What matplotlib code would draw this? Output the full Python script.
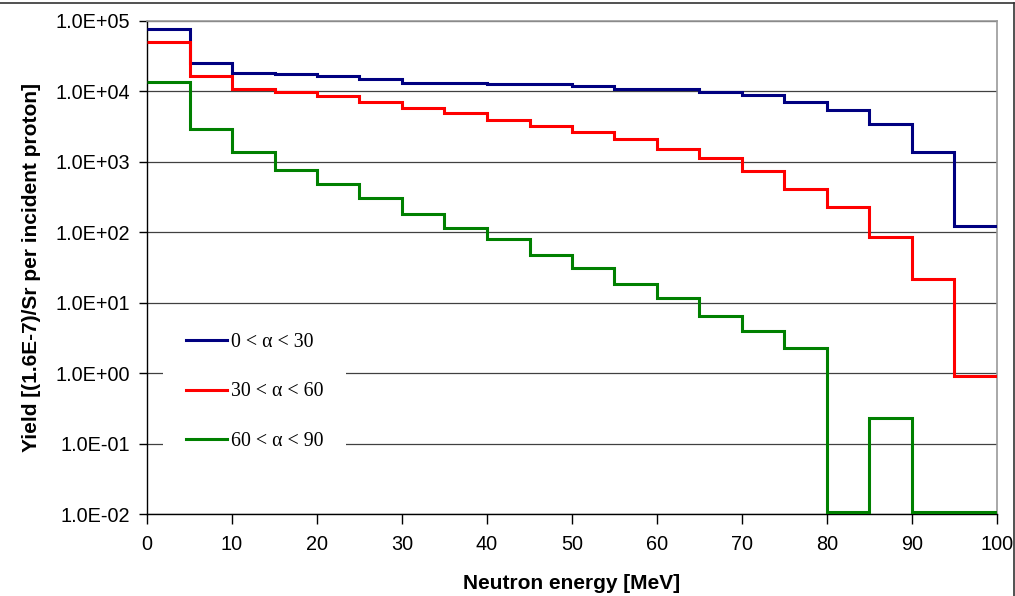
import matplotlib

matplotlib.use("Agg")
import matplotlib.pyplot as plt
from matplotlib.lines import Line2D
from matplotlib.ticker import FixedLocator, FuncFormatter, NullLocator

# bin edges in MeV (20 bins of 5 MeV)
edges = [0, 5, 10, 15, 20, 25, 30, 35, 40, 45, 50,
         55, 60, 65, 70, 75, 80, 85, 90, 95, 100]

yield_0_30 = [7.6e4, 2.56e4, 1.85e4, 1.77e4, 1.67e4, 1.49e4, 1.33e4, 1.33e4, 1.28e4, 1.28e4,
              1.21e4, 1.08e4, 1.08e4, 9.8e3, 8.9e3, 7.1e3, 5.4e3, 3.4e3, 1.4e3, 123]
yield_30_60 = [4.98e4, 1.66e4, 1.08e4, 9.8e3, 8.7e3, 7.15e3, 5.75e3, 4.99e3, 3.97e3, 3.23e3,
               2.65e3, 2.11e3, 1.54e3, 1.12e3, 741, 416, 231, 85, 22, 0.91]
yield_60_90 = [1.35e4, 2.93e3, 1.40e3, 766, 485, 304, 180, 116, 81, 47,
               31.4, 18.2, 11.6, 6.5, 3.96, 2.25, 0.0108, 0.229, 0.0108, 0.0108]

labels = ["0 < α < 30", "30 < α < 60", "60 < α < 90"]
colors = ["#000080", "#ff0000", "#008000"]

x_ticks = [0, 10, 20, 30, 40, 50, 60, 70, 80, 90, 100]
y_ticks = [1e-2, 1e-1, 1e0, 1e1, 1e2, 1e3, 1e4, 1e5]

plt.rcParams["font.family"] = ["Liberation Sans", "DejaVu Sans"]

fig = plt.figure(figsize=(10.15, 5.96), dpi=100)
ax = fig.add_axes([147 / 1015, 1 - 514 / 596, 850 / 1015, 493 / 596])

for vals, lab, col in zip([yield_0_30, yield_30_60, yield_60_90], labels, colors):
    ax.stairs(vals, edges, baseline=None, color=col, lw=2.2, label=lab,
              joinstyle="miter", zorder=3)

ax.set_yscale("log")
ax.set_xlim(0, 100)
ax.set_ylim(1e-2, 1e5)
ax.xaxis.set_major_locator(FixedLocator(x_ticks))
ax.yaxis.set_major_locator(FixedLocator(y_ticks))
ax.yaxis.set_minor_locator(NullLocator())
ax.yaxis.set_major_formatter(FuncFormatter(lambda v, pos: f"{v:.1E}"))
ax.tick_params(axis="y", direction="out", length=6, width=1, labelsize=14.3, pad=6)
ax.tick_params(axis="x", direction="out", length=7, width=1, labelsize=14.3, pad=8)

ax.grid(axis="y", which="major", color="#404040", lw=0.9, zorder=1)
ax.set_axisbelow(True)
for side in ("top", "right"):
    ax.spines[side].set_color("#999999")
    ax.spines[side].set_linewidth(1.2)
for side in ("left", "bottom"):
    ax.spines[side].set_color("black")
    ax.spines[side].set_linewidth(1.0)

ax.set_xlabel("Neutron energy [MeV]", fontsize=15, fontweight="bold")
ax.set_ylabel("Yield [(1.6E-7)/Sr per incident proton]", fontsize=15, fontweight="bold")
ax.xaxis.set_label_coords(0.5, -0.122)
ax.yaxis.set_label_coords(-0.1247, 0.5)

leg = ax.legend(loc="center left", bbox_to_anchor=(0.0188, 0.2475), borderaxespad=0,
                frameon=True, fancybox=False, edgecolor="none", facecolor="white",
                framealpha=1, handlelength=2.05, handletextpad=0.2, labelspacing=1.55,
                borderpad=1.15, prop={"family": ["Liberation Serif", "DejaVu Serif"],
                                      "size": 14.3})
leg.set_zorder(4)

# outer chart frame (top and right edges visible)
fig.add_artist(Line2D([0, 1014 / 1015], [1 - 3 / 596, 1 - 3 / 596],
                      transform=fig.transFigure, color="#333333", lw=1.2))
fig.add_artist(Line2D([1014 / 1015, 1014 / 1015], [0, 1 - 3 / 596],
                      transform=fig.transFigure, color="#333333", lw=1.2))

fig.savefig("out.png", dpi=100)
plt.close(fig)
